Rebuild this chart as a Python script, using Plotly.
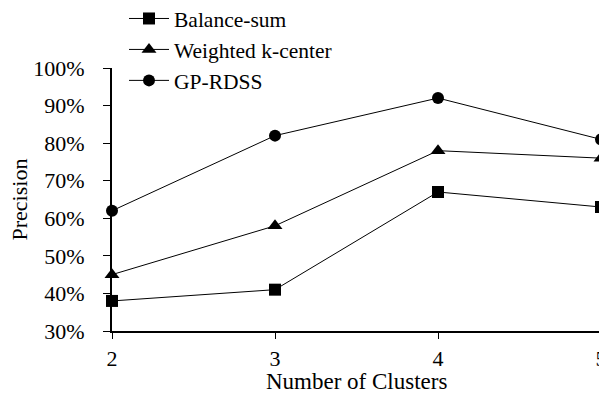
import plotly.graph_objects as go

clusters = [2, 3, 4, 5]
balance_sum = [38, 41, 67, 63]
weighted_kcenter = [45, 58, 78, 76]
gp_rdss = [62, 82, 92, 81]
y_ticks = [30, 40, 50, 60, 70, 80, 90, 100]
y_tick_labels = [f"{v}%" for v in y_ticks]
x_title = "Number of Clusters"
y_title = "Precision"

FONT = "Liberation Serif"

fig = go.Figure()
series = [
    ("Balance-sum", balance_sum, "square", 12),
    ("Weighted k-center", weighted_kcenter, "triangle-up", 13),
    ("GP-RDSS", gp_rdss, "circle", 12),
]
for name, vals, sym, sz in series:
    fig.add_trace(go.Scatter(
        x=clusters, y=vals, name=name, mode="lines+markers",
        line=dict(color="black", width=1),
        marker=dict(symbol=sym, size=sz, color="black"),
        cliponaxis=False,
    ))

# The page body adds an 8px margin, so the figure is sized/offset to compensate.
W, H = 599, 388
L, R, T, B = 104, 6, 60, 65
PW, PH = W - L - R, H - T - B
fig.update_layout(
    width=W, height=H,
    margin=dict(l=L, r=R, t=T, b=B, autoexpand=False),
    paper_bgcolor="white", plot_bgcolor="white",
    font=dict(family=FONT, size=22, color="black"),
    showlegend=True,
    legend=dict(
        x=12 / PW, xanchor="left",
        y=1 + (T + 10) / PH, yanchor="top",
        bgcolor="rgba(0,0,0,0)",
        font=dict(family=FONT, size=21.5, color="black"),
        tracegroupgap=0,
        itemwidth=40,
    ),
    xaxis=dict(
        range=[2, 5], tickvals=clusters, ticktext=[str(c) for c in clusters],
        showgrid=False, zeroline=False, showline=True, linecolor="black", linewidth=2,
        ticks="outside", ticklen=6, tickwidth=1, tickcolor="black",
        ticklabelstandoff=1,
        tickfont=dict(family=FONT, size=22),
    ),
    yaxis=dict(
        range=[30, 100], tickvals=y_ticks, ticktext=y_tick_labels,
        showgrid=False, zeroline=False, showline=True, linecolor="black", linewidth=2,
        ticks="outside", ticklen=7, tickwidth=1, tickcolor="black",
        ticklabelstandoff=14,
        tickfont=dict(family=FONT, size=22),
    ),
    annotations=[
        dict(text=x_title, xref="paper", yref="paper", x=0.5, y=-(373 - (T + PH)) / PH,
             xanchor="center", yanchor="middle", showarrow=False,
             font=dict(family=FONT, size=23, color="black")),
        dict(text=y_title, xref="paper", yref="paper", x=(11 - L) / PW, y=0.5,
             xanchor="center", yanchor="middle", textangle=-90, showarrow=False,
             font=dict(family=FONT, size=22, color="black")),
    ],
)

fig.write_html("out.html")
